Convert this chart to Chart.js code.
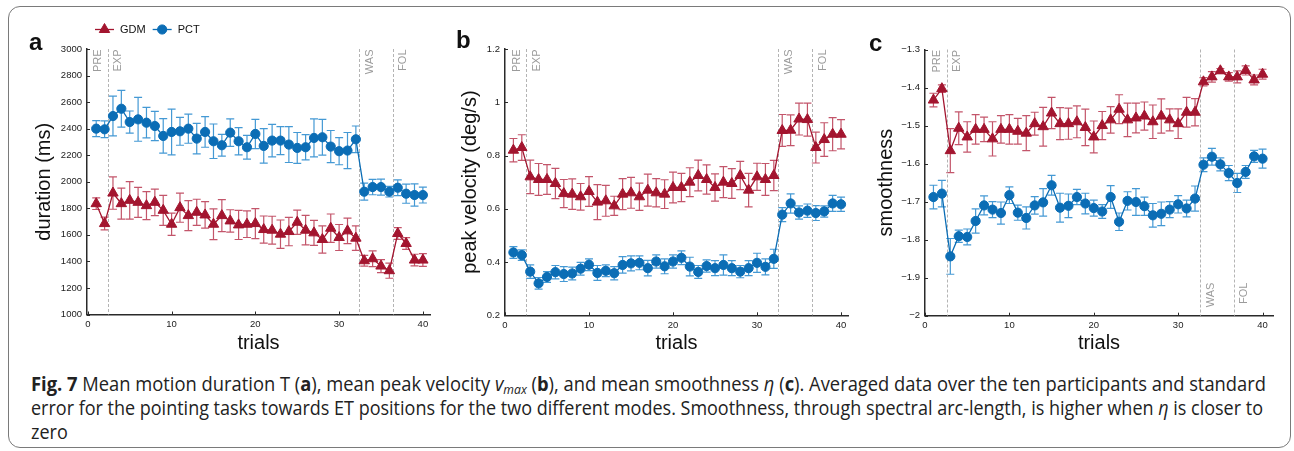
<!DOCTYPE html>
<html>
<head>
<meta charset="utf-8">
<script src="https://cdn.jsdelivr.net/npm/chart.js@4.4.1/dist/chart.umd.min.js"></script>
<style>
  html, body { margin: 0; padding: 0; background: #fff; }
  #fig { position: relative; width: 1294px; height: 451px; overflow: hidden; background: #fff; }
  #frame { position: absolute; left: 8px; top: 6px; width: 1283px; height: 442px; box-sizing: border-box;
           border: 1.5px solid #7a7a7a; border-radius: 12px; }
  canvas.panel { position: absolute; top: 0; }
  .letter { position: absolute; font: bold 24px "Liberation Sans", Arial, sans-serif; color: #111; line-height: 24px; }
  #caption { position: absolute; left: 31px; top: 372px; font-family: "Open Sans", "Noto Sans", sans-serif;
             font-size: 19.5px; color: #222; }
  #caption .line { white-space: nowrap; display: block; height: 24px; line-height: 24px; }
  #caption .line span.inner { display: inline-block; transform-origin: 0 50%; }
  #caption i { font-style: italic; }
  #caption sub { font-size: 13px; font-style: italic; vertical-align: -3px; line-height: 0; }
</style>
</head>
<body>
<div id="fig">
  <div id="frame"></div>
  <canvas id="chartA" class="panel" width="440" height="360" style="left:0px"></canvas>
  <canvas id="chartB" class="panel" width="420" height="360" style="left:440px"></canvas>
  <canvas id="chartC" class="panel" width="430" height="360" style="left:860px"></canvas>
  <div class="letter" style="left:29px; top:30px">a</div>
  <div class="letter" style="left:456px; top:28px">b</div>
  <div class="letter" style="left:869px; top:31px">c</div>
  <div id="caption">
    <div class="line"><span class="inner" data-w="1235"><b>Fig. 7</b> Mean motion duration T (<b>a</b>), mean peak velocity <i>v</i><sub>max</sub> (<b>b</b>), and mean smoothness <i>η</i> (<b>c</b>). Averaged data over the ten participants and standard</span></div>
    <div class="line"><span class="inner" data-w="1232">error for the pointing tasks towards ET positions for the two different modes. Smoothness, through spectral arc-length, is higher when <i>η</i> is closer to</span></div>
    <div class="line"><span class="inner">zero</span></div>
  </div>
</div>

<script>
var trials = [1, 2, 3, 4, 5, 6, 7, 8, 9, 10, 11, 12, 13, 14, 15, 16, 17, 18, 19, 20,
              21, 22, 23, 24, 25, 26, 27, 28, 29, 30, 31, 32, 33, 34, 35, 36, 37, 38, 39, 40];
var trialTicks = [0, 10, 20, 30, 40];
var phaseNames = ["PRE", "EXP", "WAS", "FOL"];

// duration (ms)
var durGDM = [1835, 1685, 1915, 1835, 1860, 1845, 1820, 1845, 1785, 1680, 1805, 1745, 1770, 1750, 1680, 1745, 1705, 1675, 1680, 1685,
              1640, 1635, 1605, 1625, 1695, 1635, 1615, 1565, 1650, 1580, 1630, 1575, 1405, 1420, 1365, 1330, 1610, 1535, 1410, 1410];
var durGDMErr = [44, 48, 122, 117, 141, 113, 105, 100, 113, 84, 110, 113, 98, 100, 116, 120, 84, 110, 100, 113,
                 102, 105, 107, 107, 91, 111, 94, 102, 107, 98, 96, 92, 40, 59, 49, 57, 44, 44, 44, 48];
var durPCT = [2400, 2395, 2495, 2550, 2450, 2470, 2445, 2420, 2345, 2375, 2380, 2400, 2325, 2375, 2305, 2275, 2370, 2305, 2260, 2360,
              2270, 2310, 2310, 2280, 2255, 2260, 2330, 2335, 2265, 2230, 2235, 2320, 1925, 1960, 1960, 1925, 1955, 1910, 1900, 1900];
var durPCTErr = [60, 63, 150, 138, 83, 165, 115, 110, 130, 172, 105, 110, 115, 115, 130, 82, 103, 103, 90, 110,
                 130, 122, 105, 135, 116, 95, 143, 135, 121, 102, 136, 100, 64, 58, 60, 40, 59, 72, 84, 60];
var durTicks = [1000, 1200, 1400, 1600, 1800, 2000, 2200, 2400, 2600, 2800, 3000];
var durTickLabels = ["1000", "1200", "1400", "1600", "1800", "2000", "2200", "2400", "2600", "2800", "3000"];

// peak velocity (deg/s)
var velGDM = [0.82, 0.83, 0.72, 0.71, 0.71, 0.695, 0.657, 0.655, 0.645, 0.665, 0.625, 0.63, 0.611, 0.655, 0.66, 0.645, 0.67, 0.66, 0.655, 0.68,
              0.68, 0.70, 0.725, 0.71, 0.68, 0.70, 0.695, 0.725, 0.67, 0.72, 0.71, 0.725, 0.894, 0.895, 0.937, 0.935, 0.83, 0.86, 0.88, 0.88];
var velGDMErr = [0.044, 0.048, 0.063, 0.06, 0.056, 0.057, 0.053, 0.057, 0.05, 0.056, 0.066, 0.058, 0.036, 0.058, 0.058, 0.051, 0.06, 0.053, 0.054, 0.058,
                 0.053, 0.054, 0.058, 0.055, 0.051, 0.058, 0.056, 0.053, 0.063, 0.051, 0.06, 0.057, 0.06, 0.058, 0.06, 0.062, 0.058, 0.063, 0.062, 0.055];
var velPCT = [0.436, 0.426, 0.364, 0.32, 0.344, 0.362, 0.355, 0.357, 0.375, 0.39, 0.359, 0.367, 0.358, 0.389, 0.395, 0.397, 0.377, 0.402, 0.384, 0.402,
              0.416, 0.383, 0.363, 0.385, 0.377, 0.389, 0.377, 0.364, 0.377, 0.397, 0.382, 0.412, 0.578, 0.62, 0.586, 0.593, 0.584, 0.59, 0.62, 0.617];
var velPCTErr = [0.022, 0.02, 0.025, 0.022, 0.02, 0.025, 0.028, 0.024, 0.024, 0.022, 0.028, 0.022, 0.025, 0.031, 0.028, 0.026, 0.029, 0.025, 0.028, 0.025,
                 0.026, 0.035, 0.024, 0.023, 0.028, 0.038, 0.028, 0.023, 0.028, 0.036, 0.03, 0.036, 0.026, 0.036, 0.025, 0.025, 0.028, 0.021, 0.03, 0.027];
var velTicks = [0.2, 0.4, 0.6, 0.8, 1, 1.2];
var velTickLabels = ["0.2", "0.4", "0.6", "0.8", "1", "1.2"];

// smoothness (spectral arc-length)
var smoGDM = [-1.433, -1.403, -1.566, -1.507, -1.53, -1.51, -1.51, -1.535, -1.51, -1.51, -1.515, -1.52, -1.495, -1.503, -1.467, -1.495, -1.495, -1.49, -1.505, -1.53,
              -1.50, -1.485, -1.457, -1.485, -1.48, -1.475, -1.49, -1.475, -1.485, -1.495, -1.465, -1.465, -1.385, -1.372, -1.356, -1.372, -1.372, -1.355, -1.38, -1.365];
var smoGDMErr = [0.018, 0.01, 0.058, 0.043, 0.04, 0.039, 0.032, 0.045, 0.036, 0.039, 0.034, 0.046, 0.03, 0.051, 0.041, 0.042, 0.041, 0.042, 0.048, 0.042,
                 0.037, 0.035, 0.038, 0.044, 0.039, 0.037, 0.044, 0.045, 0.029, 0.039, 0.039, 0.036, 0.011, 0.014, 0.006, 0.011, 0.016, 0.012, 0.013, 0.013];
var smoPCT = [-1.688, -1.679, -1.844, -1.791, -1.793, -1.751, -1.71, -1.721, -1.73, -1.683, -1.729, -1.743, -1.71, -1.702, -1.657, -1.716, -1.711, -1.688, -1.705, -1.717,
              -1.726, -1.688, -1.753, -1.698, -1.701, -1.712, -1.736, -1.732, -1.721, -1.707, -1.718, -1.692, -1.603, -1.582, -1.602, -1.625, -1.651, -1.622, -1.581, -1.587];
var smoPCTErr = [0.031, 0.035, 0.047, 0.016, 0.021, 0.032, 0.025, 0.021, 0.029, 0.022, 0.02, 0.029, 0.023, 0.036, 0.026, 0.038, 0.031, 0.02, 0.027, 0.021,
                 0.018, 0.03, 0.023, 0.024, 0.035, 0.024, 0.031, 0.031, 0.021, 0.023, 0.022, 0.033, 0.018, 0.022, 0.017, 0.02, 0.025, 0.017, 0.016, 0.025];
var smoTicks = [-2, -1.9, -1.8, -1.7, -1.6, -1.5, -1.4, -1.3];
var smoTickLabels = ["\u22122", "\u22121.9", "\u22121.8", "\u22121.7", "\u22121.6", "\u22121.5", "\u22121.4", "\u22121.3"];

var colors = {
    gdm: "#a3152f",
    gdmErr: "rgba(185, 55, 80, 0.85)",
    pct: "#0b6db5",
    pctErr: "rgba(35, 135, 205, 0.85)",
    axis: "#2a2a2a",
    phase: "#b4b4b4",
    phaseText: "#9b9b9b",
};

var fonts = {
    family: '"Liberation Sans", Arial, sans-serif',
    tick: { family: '"Liberation Sans", Arial, sans-serif', size: 9.5 },
    title: { family: '"Liberation Sans", Arial, sans-serif', size: 20 },
};

Chart.defaults.animation = false;
Chart.defaults.events = [];

function toPoints(values) {
    return values.map(function (v, i) { return { x: trials[i], y: v }; });
}

function seriesSet(gdm, gdmErr, pct, pctErr) {
    return [
        {
            label: "GDM",
            data: toPoints(gdm),
            errors: gdmErr,
            errorColor: colors.gdmErr,
            borderColor: colors.gdm,
            backgroundColor: colors.gdm,
            borderWidth: 1.3,
            pointStyle: "triangle",
            pointRadius: 6,
            pointBorderWidth: 1,
            tension: 0,
        },
        {
            label: "PCT",
            data: toPoints(pct),
            errors: pctErr,
            errorColor: colors.pctErr,
            borderColor: colors.pct,
            backgroundColor: colors.pct,
            borderWidth: 1.3,
            pointStyle: "circle",
            pointRadius: 4.6,
            pointBorderWidth: 1,
            tension: 0,
        },
    ];
}

// vertical error bars with caps, drawn under the lines and markers
var errorBars = {
    id: "errorBars",
    beforeDatasetsDraw: function (chart) {
        var ctx = chart.ctx;
        var ys = chart.scales.y;
        chart.data.datasets.forEach(function (ds, di) {
            var meta = chart.getDatasetMeta(di);
            ctx.save();
            ctx.strokeStyle = ds.errorColor;
            ctx.lineWidth = 1.2;
            meta.data.forEach(function (pt, i) {
                var v = ds.data[i].y;
                var e = ds.errors[i];
                var top = ys.getPixelForValue(v + e);
                var bot = ys.getPixelForValue(v - e);
                ctx.beginPath();
                ctx.moveTo(pt.x, top); ctx.lineTo(pt.x, bot);
                ctx.moveTo(pt.x - 4, top); ctx.lineTo(pt.x + 4, top);
                ctx.moveTo(pt.x - 4, bot); ctx.lineTo(pt.x + 4, bot);
                ctx.stroke();
            });
            ctx.restore();
        });
    },
};

// dashed phase boundaries + rotated phase names
var phases = {
    id: "phases",
    beforeDatasetsDraw: function (chart, args, opts) {
        var ctx = chart.ctx;
        var area = chart.chartArea;
        var xs = chart.scales.x;
        ctx.save();
        ctx.strokeStyle = colors.phase;
        ctx.lineWidth = 1;
        ctx.setLineDash([3, 2]);
        opts.edges.forEach(function (edge) {
            var px = Math.round(xs.getPixelForValue(edge)) + 0.5;
            ctx.beginPath();
            ctx.moveTo(px, area.top);
            ctx.lineTo(px, area.bottom);
            ctx.stroke();
        });
        ctx.setLineDash([]);
        ctx.fillStyle = colors.phaseText;
        ctx.font = "11px " + fonts.family;
        ctx.textAlign = "right";
        ctx.textBaseline = "middle";
        phaseNames.forEach(function (name, i) {
            var edge = opts.edges[Math.max(i - 1, 0)];
            var px = xs.getPixelForValue(edge) + (i === 0 ? -9.5 : 10.5);
            var low = opts.low.indexOf(name) >= 0;
            var py = low ? area.bottom - 33 : area.top + 0.5;
            ctx.save();
            ctx.translate(px, py);
            ctx.rotate(-Math.PI / 2);
            ctx.fillText(name, 0, 0);
            ctx.restore();
        });
        ctx.restore();
    },
};

// short inward tick marks on both axes
var innerTicks = {
    id: "innerTicks",
    afterDraw: function (chart) {
        var ctx = chart.ctx;
        var area = chart.chartArea;
        ctx.save();
        ctx.strokeStyle = colors.axis;
        ctx.lineWidth = 1;
        ctx.beginPath();
        chart.scales.x.ticks.forEach(function (t) {
            var px = Math.round(chart.scales.x.getPixelForValue(t.value)) + 0.5;
            ctx.moveTo(px, area.bottom); ctx.lineTo(px, area.bottom - 3);
        });
        chart.scales.y.ticks.forEach(function (t) {
            var py = Math.round(chart.scales.y.getPixelForValue(t.value)) + 0.5;
            ctx.moveTo(area.left, py); ctx.lineTo(area.left + 3, py);
        });
        ctx.stroke();
        ctx.restore();
    },
};

// one-row key with line + marker, above panel a
var seriesKey = {
    id: "seriesKey",
    afterDraw: function (chart) {
        var ctx = chart.ctx;
        var x = 95;
        var y = 29.5;
        ctx.save();
        ctx.font = "11px " + fonts.family;
        ctx.textBaseline = "middle";
        chart.data.datasets.forEach(function (ds) {
            ctx.strokeStyle = ds.borderColor;
            ctx.fillStyle = ds.backgroundColor;
            ctx.lineWidth = 1.3;
            ctx.beginPath();
            ctx.moveTo(x, y); ctx.lineTo(x + 19, y);
            ctx.stroke();
            ctx.lineWidth = 1;
            Chart.helpers.drawPoint(ctx, { pointStyle: ds.pointStyle, radius: ds.pointRadius, rotation: 0, borderWidth: 1 }, x + 9.5, y);
            ctx.fillStyle = "#111";
            ctx.fillText(ds.label, x + 25, y);
            x += 25 + ctx.measureText(ds.label).width + 7;
        });
        ctx.restore();
    },
};

function makePanel(id, cfg) {
    var canvasH = 360;
    return new Chart(document.getElementById(id).getContext("2d"), {
        type: "line",
        data: { datasets: seriesSet(cfg.gdm, cfg.gdmErr, cfg.pct, cfg.pctErr) },
        plugins: cfg.key ? [errorBars, phases, innerTicks, seriesKey] : [errorBars, phases, innerTicks],
        options: {
            responsive: false,
            maintainAspectRatio: false,
            layout: { padding: { top: cfg.top, right: cfg.right, left: 0, bottom: 0 } },
            plugins: {
                legend: { display: false },
                tooltip: { enabled: false },
                phases: { edges: cfg.edges, low: cfg.low },
            },
            scales: {
                x: {
                    type: "linear",
                    min: cfg.xRange[0],
                    max: cfg.xRange[1],
                    afterBuildTicks: function (s) {
                        s.ticks = trialTicks.map(function (v) { return { value: v }; });
                    },
                    afterFit: function (s) { s.height = canvasH - cfg.bottom; },
                    grid: { display: false, drawTicks: false },
                    border: { display: true, color: colors.axis, width: 1.5 },
                    ticks: {
                        font: fonts.tick, color: "#222", padding: 4, maxRotation: 0, autoSkip: false,
                        callback: function (v) { return String(v); },
                    },
                    title: { display: true, text: "trials", font: fonts.title, color: "#111", padding: { top: 0, bottom: 5 } },
                },
                y: {
                    type: "linear",
                    min: cfg.yTicks[0],
                    max: cfg.yTicks[cfg.yTicks.length - 1],
                    afterBuildTicks: function (s) {
                        s.ticks = cfg.yTicks.map(function (v) { return { value: v }; });
                    },
                    afterFit: function (s) { s.width = cfg.left; },
                    grid: { display: false, drawTicks: false },
                    border: { display: true, color: colors.axis, width: 1.5 },
                    ticks: {
                        font: fonts.tick, color: "#222", padding: 5, autoSkip: false,
                        callback: function (v, i) { return cfg.yLabels[i]; },
                    },
                    title: { display: true, text: cfg.yTitle, font: fonts.title, color: "#111", padding: { top: cfg.titleOffset, bottom: 0 } },
                },
            },
        },
    });
}

function init_charts() {
    makePanel("chartA", {
        gdm: durGDM, gdmErr: durGDMErr, pct: durPCT, pctErr: durPCTErr,
        yTicks: durTicks, yLabels: durTickLabels, yTitle: "duration (ms)",
        xRange: [-0.1, 40.85], edges: [2.35, 32.4, 36.4], low: [],
        left: 87, right: 10, top: 49, bottom: 314.5, titleOffset: 32, key: true,
    });
    makePanel("chartB", {
        gdm: velGDM, gdmErr: velGDMErr, pct: velPCT, pctErr: velPCTErr,
        yTicks: velTicks, yLabels: velTickLabels, yTitle: "peak velocity (deg/s)",
        xRange: [0, 40.83], edges: [2.55, 32.55, 36.55], low: [],
        left: 65, right: 12, top: 49, bottom: 315.3, titleOffset: 18, key: false,
    });
    makePanel("chartC", {
        gdm: smoGDM, gdmErr: smoGDMErr, pct: smoPCT, pctErr: smoPCTErr,
        yTicks: smoTicks, yLabels: smoTickLabels, yTitle: "smoothness",
        xRange: [0, 41.24], edges: [2.6, 32.6, 36.6], low: ["WAS", "FOL"],
        left: 65, right: 17, top: 49.5, bottom: 315.7, titleOffset: 14, key: false,
    });
}

// squeeze each caption line to its column width
function fit_caption() {
    var lines = document.querySelectorAll("#caption .inner");
    var scale = 1;
    lines.forEach(function (el) {
        var w = parseFloat(el.getAttribute("data-w"));
        if (w) scale = w / el.getBoundingClientRect().width;
        el.style.transform = "scaleX(" + scale + ")";
    });
}

fit_caption();
init_charts();
</script>
</body>
</html>
